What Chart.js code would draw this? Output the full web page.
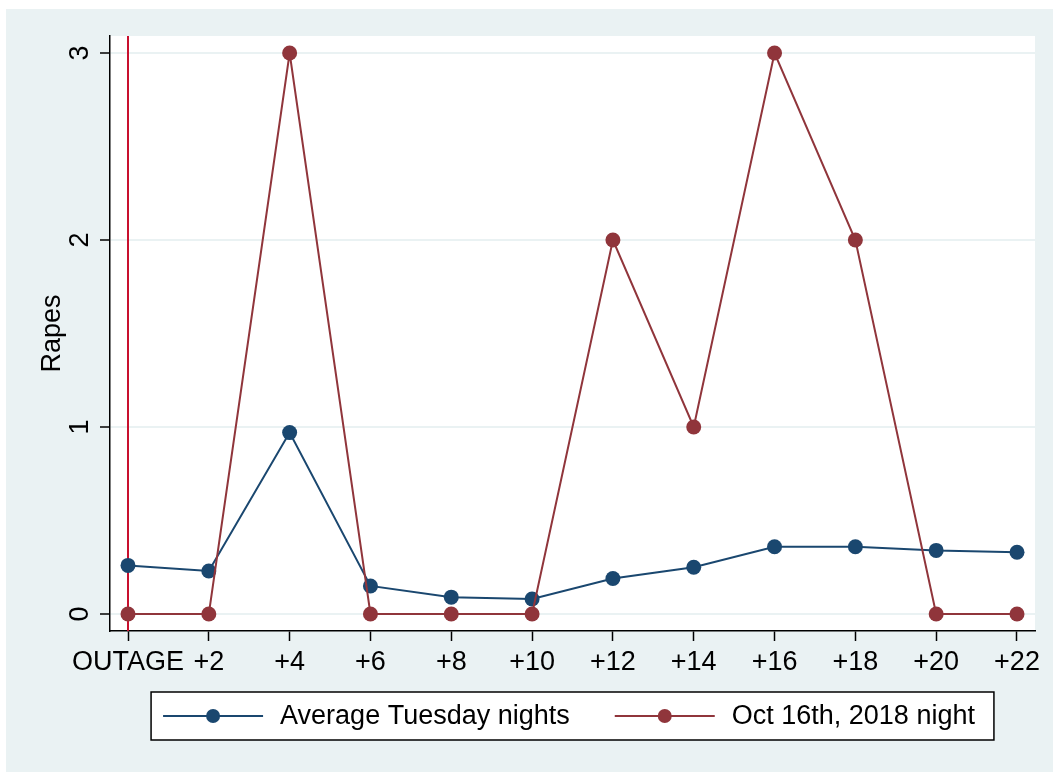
<!DOCTYPE html>
<html>
<head>
<meta charset="utf-8">
<script src="https://cdn.jsdelivr.net/npm/chart.js@4"></script>
<style>
  body { margin: 0; background: #ffffff; }
  canvas { display: block; }
</style>
</head>
<body>
<canvas id="rapesChart" width="1053" height="772"></canvas>
<script>
// Hours after the outage, with their axis labels
const hours = [0, 2, 4, 6, 8, 10, 12, 14, 16, 18, 20, 22];
const hourLabels = ['OUTAGE', '+2', '+4', '+6', '+8', '+10', '+12', '+14', '+16', '+18', '+20', '+22'];

// Rapes per two-hour window
const avgTuesday = [0.26, 0.23, 0.97, 0.15, 0.09, 0.08, 0.19, 0.25, 0.36, 0.36, 0.34, 0.33];
const oct16 = [0, 0, 3, 0, 0, 0, 2, 1, 3, 2, 0, 0];

const yTicks = [0, 1, 2, 3];

const BG = '#eaf2f3';
const NAVY = '#1a476f';
const MAROON = '#90353b';
const FONT = 'Liberation Sans, Arial, Helvetica, sans-serif';
const FONT_SIZE = 27;

function toPoints(values) {
  return hours.map((h, i) => ({ x: h, y: values[i] }));
}

// Outer panel and white plot region
const backgroundPlugin = {
  id: 'stataBackground',
  beforeDraw(chart) {
    const { ctx, chartArea } = chart;
    ctx.save();
    ctx.fillStyle = '#ffffff';
    ctx.fillRect(0, 0, chart.width, chart.height);
    ctx.fillStyle = BG;
    ctx.fillRect(6, 9, chart.width - 6, chart.height - 9);
    ctx.fillStyle = '#ffffff';
    ctx.fillRect(chartArea.left, chartArea.top, chartArea.right - chartArea.left, chartArea.bottom - chartArea.top);
    ctx.restore();
  }
};

// Vertical marker at the outage hour
const outageLinePlugin = {
  id: 'outageLine',
  beforeDatasetsDraw(chart) {
    const { ctx, chartArea, scales } = chart;
    const x = scales.x.getPixelForValue(0);
    ctx.save();
    ctx.strokeStyle = '#c8102e';
    ctx.lineWidth = 2;
    ctx.beginPath();
    ctx.moveTo(x, chartArea.top);
    ctx.lineTo(x, chartArea.bottom);
    ctx.stroke();
    ctx.restore();
  }
};

// Boxed legend below the axis, line + marker keys
const boxLegendPlugin = {
  id: 'boxLegend',
  afterDraw(chart) {
    const { ctx, chartArea } = chart;
    const items = chart.data.datasets.slice().sort((a, b) => a.legendIndex - b.legendIndex);
    const lineLen = 100, gap = 17, spacing = 45, padL = 12, padR = 19;
    ctx.save();
    ctx.font = FONT_SIZE + 'px ' + FONT;
    const widths = items.map(d => lineLen + gap + ctx.measureText(d.label).width);
    const total = padL + widths.reduce((a, b) => a + b, 0) + spacing * (items.length - 1) + padR;
    const left = (chartArea.left + chartArea.right) / 2 - total / 2;
    const top = 692, height = 48;
    const cy = top + height / 2;

    ctx.fillStyle = '#ffffff';
    ctx.fillRect(left, top, total, height);
    ctx.strokeStyle = '#000000';
    ctx.lineWidth = 1.5;
    ctx.strokeRect(left, top, total, height);

    let x = left + padL;
    items.forEach((d, i) => {
      ctx.strokeStyle = d.borderColor;
      ctx.lineWidth = 2;
      ctx.beginPath();
      ctx.moveTo(x, cy);
      ctx.lineTo(x + lineLen, cy);
      ctx.stroke();
      ctx.fillStyle = d.pointBackgroundColor;
      ctx.beginPath();
      ctx.arc(x + lineLen / 2, cy, 7, 0, Math.PI * 2);
      ctx.fill();
      ctx.fillStyle = '#000000';
      ctx.textAlign = 'left';
      ctx.textBaseline = 'middle';
      ctx.fillText(d.label, x + lineLen + gap, cy + 1);
      x += widths[i] + spacing;
    });
    ctx.restore();
  }
};

const ctx = document.getElementById('rapesChart').getContext('2d');

new Chart(ctx, {
  type: 'line',
  data: {
    datasets: [
      {
        label: 'Average Tuesday nights',
        legendIndex: 0,
        data: toPoints(avgTuesday),
        borderColor: NAVY,
        backgroundColor: NAVY,
        pointBackgroundColor: NAVY,
        pointBorderWidth: 0,
        pointRadius: 7.5,
        borderWidth: 2,
        tension: 0,
        order: 1
      },
      {
        label: 'Oct 16th, 2018 night',
        legendIndex: 1,
        data: toPoints(oct16),
        borderColor: MAROON,
        backgroundColor: MAROON,
        pointBackgroundColor: MAROON,
        pointBorderWidth: 0,
        pointRadius: 7.5,
        borderWidth: 2,
        tension: 0,
        order: 0
      }
    ]
  },
  options: {
    responsive: false,
    animation: false,
    layout: {
      padding: { left: 0, top: 36, right: 18, bottom: 0 }
    },
    plugins: {
      legend: { display: false },
      tooltip: { enabled: false }
    },
    scales: {
      x: {
        type: 'linear',
        min: -0.4455,
        max: 22.4455,
        afterBuildTicks: axis => { axis.ticks = hours.map(v => ({ value: v })); },
        afterFit: axis => { axis.height = 141; },
        ticks: {
          callback: value => hourLabels[hours.indexOf(value)],
          color: '#000000',
          font: { family: FONT, size: FONT_SIZE },
          padding: 5,
          maxRotation: 0,
          autoSkip: false
        },
        grid: {
          drawOnChartArea: false,
          tickLength: 10,
          tickColor: '#000000',
          tickWidth: 1.5
        },
        border: { color: '#000000', width: 1.5 }
      },
      y: {
        min: -0.0909,
        max: 3.0909,
        afterBuildTicks: axis => { axis.ticks = yTicks.map(v => ({ value: v })); },
        afterFit: axis => { axis.width = 110; },
        ticks: {
          color: '#000000',
          font: { family: FONT, size: FONT_SIZE },
          minRotation: 90,
          maxRotation: 90,
          crossAlign: 'center',
          padding: 12
        },
        grid: {
          color: BG,
          lineWidth: 2,
          tickLength: 10,
          tickColor: '#000000',
          tickWidth: 1.5
        },
        border: { color: '#000000', width: 1.5 },
        title: {
          display: true,
          text: 'Rapes',
          color: '#000000',
          font: { family: FONT, size: FONT_SIZE },
          padding: { top: 36, bottom: 0 }
        }
      }
    }
  },
  plugins: [backgroundPlugin, outageLinePlugin, boxLegendPlugin]
});
</script>
</body>
</html>
